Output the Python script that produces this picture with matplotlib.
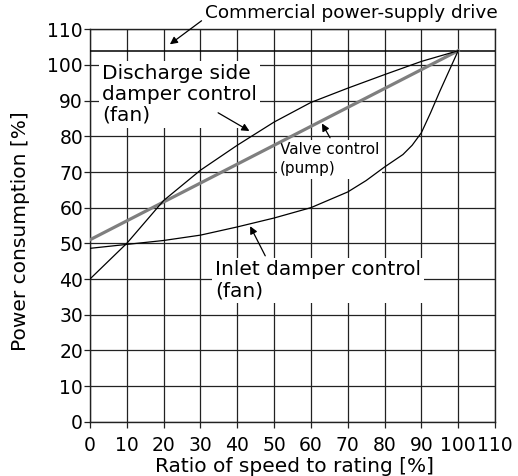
import matplotlib
matplotlib.use("Agg")
import matplotlib.pyplot as plt

# Speed ratio [%] and power consumption [%] for each control method
speed = [0, 10, 20, 30, 40, 50, 60, 70, 80, 90, 100]
discharge_damper = [40, 50, 62, 70.5, 77.5, 84, 89.5, 93.5, 97.3, 101, 104]

inlet_speed = [0, 10, 20, 30, 40, 50, 60, 70, 75, 80, 85, 87.5, 90, 92.5, 95, 97.5, 100]
inlet_damper = [48.6, 49.7, 50.8, 52.3, 54.6, 57.1, 60, 64.4, 67.6, 71.4, 74.9,
                77.5, 81.0, 86.6, 92.6, 98.3, 104]

valve_speed = [0, 100]
valve_control = [51, 104]

commercial_level = 104

ticks = list(range(0, 111, 10))

plt.rcParams['font.family'] = ['DejaVu Sans']

fig = plt.figure(figsize=(5.18, 4.76), dpi=100)
ax = fig.add_axes([0.1737, 0.1141, 0.7819, 0.8243])

ax.set_xlim(0, 110)
ax.set_ylim(0, 110)
ax.set_xticks(ticks)
ax.set_yticks(ticks)
ax.tick_params(axis='both', labelsize=13.5, direction='out', length=4,
               width=0.9, color='#222222')
ax.tick_params(axis='y', pad=1)
ax.tick_params(axis='x', pad=6)
ax.grid(True, color='#222222', linewidth=0.9)
ax.set_axisbelow(True)
for sp in ax.spines.values():
    sp.set_color('#222222')
    sp.set_linewidth(1.0)

# Curves
ax.axhline(commercial_level, color='black', linewidth=1.1, zorder=3)
ax.plot(valve_speed, valve_control, color='#7f7f7f', linewidth=2.3, zorder=4)
ax.plot(speed, discharge_damper, color='black', linewidth=0.9, zorder=4)
ax.plot(inlet_speed, inlet_damper, color='black', linewidth=0.9, zorder=4)

white = dict(facecolor='white', edgecolor='none', pad=2)

# Labels
ax.text(3.3, 100.2, "Discharge side\ndamper control\n(fan)", fontsize=14.5,
        ha='left', va='top', linespacing=1.12, bbox=white, zorder=2)
ax.text(51.6, 78.3, "Valve control\n(pump)", fontsize=11,
        ha='left', va='top', linespacing=1.3, bbox=white, zorder=2)
ax.text(34, 45.2, "Inlet damper control\n(fan)", fontsize=14.5,
        ha='left', va='top', linespacing=1.12, bbox=white, zorder=2)
ax.text(31.3, 114.5, "Commercial power-supply drive", fontsize=13.3,
        ha='left', va='center', clip_on=False)

arrow = dict(arrowstyle='-|>', color='black', lw=0.9, mutation_scale=11,
             shrinkA=0, shrinkB=0)
ax.annotate("", xy=(21.7, 105.8), xytext=(30.3, 112.4), arrowprops=arrow,
            annotation_clip=False, zorder=5)
ax.annotate("", xy=(43.3, 81.5), xytext=(34.8, 86.6), arrowprops=arrow, zorder=5)
ax.annotate("", xy=(63.0, 83.6), xytext=(65.2, 79.6), arrowprops=arrow, zorder=5)
ax.annotate("", xy=(43.5, 54.8), xytext=(47.6, 46.5), arrowprops=arrow, zorder=5)

ax.set_xlabel("Ratio of speed to rating [%]", fontsize=14.5)
ax.set_ylabel("Power consumption [%]", fontsize=14.5)
ax.xaxis.set_label_coords(0.506, -0.09)
ax.yaxis.set_label_coords(-0.147, 0.486)

fig.savefig("out.png", dpi=100)
